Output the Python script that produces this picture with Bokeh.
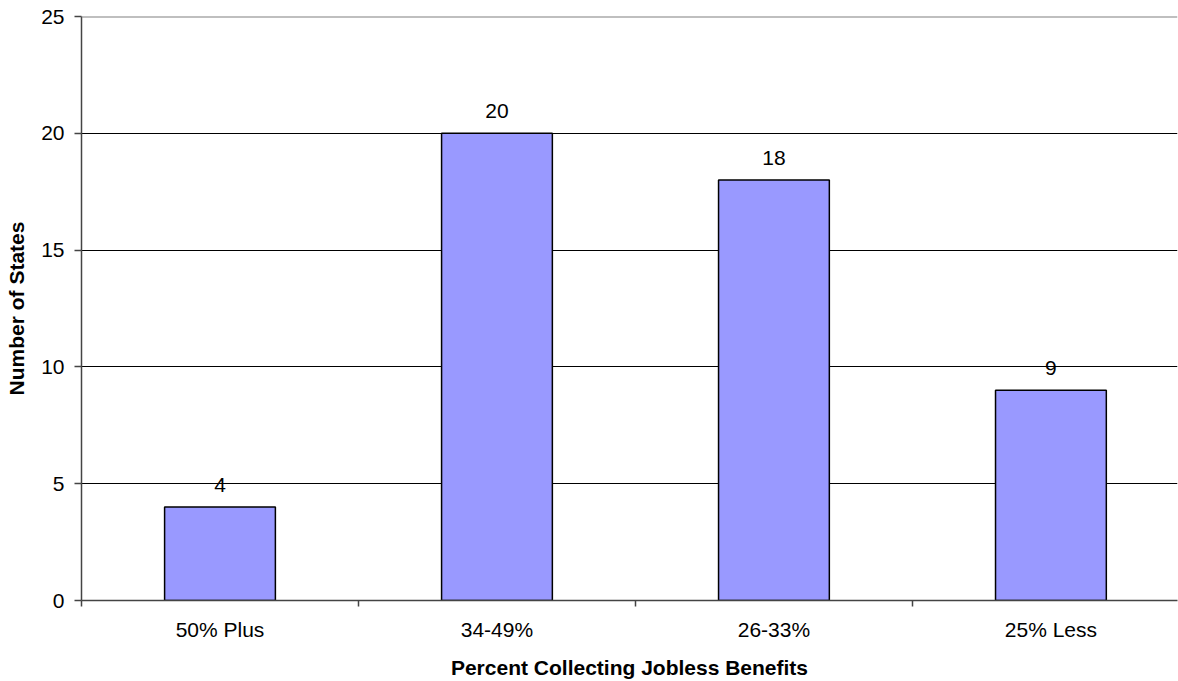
from bokeh.plotting import figure
from bokeh.models import FixedTicker, Range1d, Span, ColumnDataSource
from bokeh.core.properties import value
from bokeh.embed import file_html
from bokeh.resources import INLINE

categories = ["50% Plus", "34-49%", "26-33%", "25% Less"]
counts = [4, 20, 18, 9]
y_ticks = [0, 5, 10, 15, 20, 25]

FONT = "Liberation Sans"

xs = [i + 0.5 for i in range(len(categories))]
src = ColumnDataSource(dict(x=xs, top=counts, lab=[str(c) for c in counts]))

p = figure(width=1178, height=681, output_backend="svg", toolbar_location=None,
           x_range=Range1d(0, 3.957), y_range=Range1d(0, 25),
           min_border_left=81, min_border_right=1, min_border_top=16, min_border_bottom=81)
p.outline_line_color = None
p.background_fill_color = "white"
p.border_fill_color = "white"

p.vbar(x="x", top="top", width=0.4, source=src, fill_color="#9999FF",
       line_color="black", line_width=1.5)
p.text(x="x", y="top", text="lab", source=src, text_align="center",
       text_baseline="alphabetic", y_offset=-22, text_font=value(FONT),
       text_font_size="21px", text_color="black")

# grid
p.xgrid.visible = False
p.ygrid.ticker = FixedTicker(ticks=y_ticks[1:-1])
p.ygrid.grid_line_color = "black"
p.ygrid.grid_line_width = 1
p.add_layout(Span(location=y_ticks[-1], dimension="width", line_color="#808080", line_width=2))

# x axis
xa = p.xaxis[0]
xa.ticker = FixedTicker(ticks=xs, minor_ticks=list(range(len(categories) + 1)))
xa.major_label_overrides = {x: c for x, c in zip(xs, categories)}
xa.major_tick_out = 0
xa.major_tick_in = 0
xa.minor_tick_out = 6
xa.minor_tick_in = 0
xa.minor_tick_line_color = "#444444"
xa.minor_tick_line_width = 1.5
xa.axis_line_color = "#444444"
xa.axis_line_width = 1.5
xa.major_label_standoff = 11
xa.major_label_text_font = FONT
xa.major_label_text_font_size = "21px"
xa.major_label_text_color = "black"
xa.axis_label = "Percent Collecting Jobless Benefits"
xa.axis_label_text_font = FONT
xa.axis_label_text_font_size = "21px"
xa.axis_label_text_font_style = "bold"
xa.axis_label_text_color = "black"
xa.axis_label_standoff = 12

# y axis
ya = p.yaxis[0]
ya.ticker = FixedTicker(ticks=y_ticks)
ya.major_tick_out = 7
ya.major_tick_in = 0
ya.minor_tick_out = 0
ya.minor_tick_in = 0
ya.major_tick_line_color = "#444444"
ya.major_tick_line_width = 1.5
ya.axis_line_color = "#444444"
ya.axis_line_width = 1.5
ya.major_label_standoff = 10
ya.major_label_text_font = FONT
ya.major_label_text_font_size = "21px"
ya.major_label_text_color = "black"
ya.axis_label = "Number of States"
ya.axis_label_text_font = FONT
ya.axis_label_text_font_size = "21px"
ya.axis_label_text_font_style = "bold"
ya.axis_label_text_color = "black"
ya.axis_label_standoff = 10

open("out.html", "w").write(file_html(p, INLINE))
